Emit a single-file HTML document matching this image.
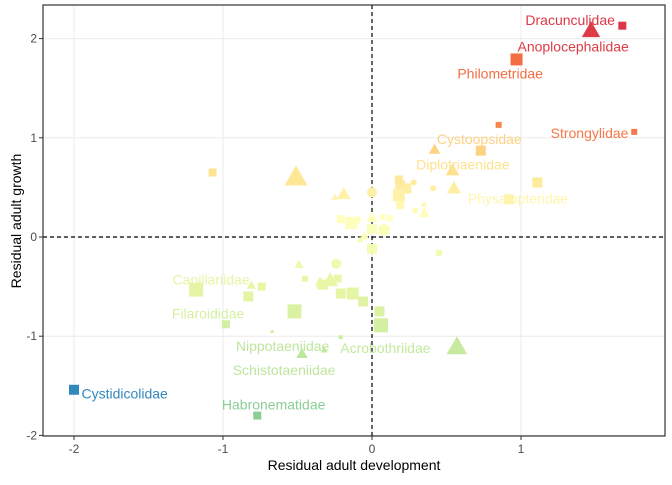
<!DOCTYPE html>
<html><head><meta charset="utf-8">
<style>
body{margin:0;background:#fff;}
svg text{font-family:"Liberation Sans",sans-serif;}
</style></head>
<body>
<svg id="chart" width="672" height="480" viewBox="0 0 672 480" xmlns="http://www.w3.org/2000/svg"></svg>
<script>
const xs=[-1.07,-0.51,-0.25,-0.19,0.0,0.19,0.23,0.18,0.28,0.41,0.55,0.18,0.19,0.35,0.35,-0.21,-0.14,0.0,0.07,0.12,0.0,0.08,-0.05,-0.08,0.0,-0.1,0.29,0.45,
 -0.49,-0.45,-0.24,-0.34,-0.28,-0.35,-0.33,-0.23,-0.21,-0.13,-0.06,0.05,0.06,-0.52,-0.83,-0.74,-0.81,-1.18,-0.98,-0.67,-0.21,-0.47,-0.32,0.57,-0.77,-2.0,
 0.85,1.76,0.42,0.73,0.54,1.11,0.92,1.68,1.47,0.97,0.55];
const ys=[0.65,0.60,0.40,0.43,0.45,0.52,0.49,0.58,0.55,0.49,0.49,0.42,0.32,0.24,0.33,0.18,0.14,0.19,0.20,0.19,0.08,0.07,0.01,-0.03,-0.12,0.17,0.27,-0.16,
 -0.28,-0.42,-0.27,-0.47,-0.44,-0.45,-0.48,-0.42,-0.57,-0.57,-0.65,-0.75,-0.89,-0.75,-0.60,-0.5,-0.49,-0.53,-0.88,-0.95,-1.01,-1.18,-1.14,-1.11,-1.80,-1.54,
 1.13,1.06,0.88,0.87,0.67,0.55,0.38,2.13,2.08,1.79,0.49];
const shapes=["s","t","t","t","c","s","s","s","c","c","t","s","s","t","t","s","s","t","s","s","s","c","t","t","s","c","c","s",
 "t","s","c","t","t","t","s","s","s","s","s","s","s","s","s","s","t","s","s","t","s","t","t","t","s","s",
 "s","s","t","s","t","s","s","s","t","s","t"];
const sizes=[4,10,3,6,5,5,5,4,3,3,6,6,4,5,3,4,6,5,3,3,5,6,4,3,5,4,3,3,
 4,3,5,5,7,4,5,4,5,6,5,5,7,7,5,4,4,7,4,2,2,5,3,9,4,5,
 3,3,5,5,6,5,5,4,8,6,6];
const labels=["Dracunculidae","Anoplocephalidae","Philometridae","Strongylidae","Cystoopsidae","Diplotriaenidae","Physalopteridae","Capillariidae","Filaroididae","Nippotaeniidae","Acrobothriidae","Schistotaeniidae","Habronematidae","Cystidicolidae"];
const labX=[1.33,1.35,0.86,1.46,0.72,0.61,0.98,-1.08,-1.10,-0.60,0.09,-0.59,-0.66,-1.66];
const labY=[2.19,1.92,1.65,1.05,0.99,0.73,0.39,-0.43,-0.77,-1.10,-1.12,-1.34,-1.69,-1.58];
const xTicks=[-2,-1,0,1];
const yTicks=[-2,-1,0,1,2];
const L=43,T=5,R=665,B=436;
const X=v=>372+149*v, Y=v=>237-99.2*v;
const svg=document.getElementById('chart');
const NS="http://www.w3.org/2000/svg";
function mk(t,a){const e=document.createElementNS(NS,t);for(const k in a)e.setAttribute(k,a[k]);svg.appendChild(e);return e;}
const stops=[[-1.9,[140,205,150]],[-1.6,[140,205,150]],[-1.1,[200,235,160]],[-0.5,[232,246,165]],[0.2,[255,255,191]],[0.6,[254,232,150]],[1.0,[253,200,120]],[1.4,[250,140,80]],[1.8,[244,109,67]],[2.1,[220,55,70]]];
function col(v){if(v<=stops[0][0])return 'rgb('+stops[0][1]+')';for(let i=1;i<stops.length;i++){if(v<=stops[i][0]){const a=stops[i-1],b=stops[i],t=(v-a[0])/(b[0]-a[0]);return 'rgb('+a[1].map((c,j)=>Math.round(c+(b[1][j]-c)*t)).join(',')+')';}}return 'rgb('+stops[stops.length-1][1]+')';}
function colAt(x,y){if(x<-1.6)return 'rgb(50,136,189)';if(x>1.4&&y<1.5)return col(y+0.6);if(x>0.8&&y>1.0&&y<1.5)return col(y+0.35);return col(y);}
for(const t of xTicks){const g=mk('line',{x1:X(t),x2:X(t),y1:T,y2:B,stroke:'#ebebeb','stroke-width':1});
}
for(const t of yTicks){const g=mk('line',{x1:L,x2:R,y1:Y(t),y2:Y(t),stroke:'#ebebeb','stroke-width':1});
}
let h=mk('line',{x1:L,x2:R,y1:Y(0),y2:Y(0),stroke:'#000','stroke-dasharray':'4,3','stroke-width':1.2});

let vl=mk('line',{x1:X(0),x2:X(0),y1:T,y2:B,stroke:'#000','stroke-dasharray':'4,3','stroke-width':1.2});

for(let i=0;i<xs.length;i++){const cx=X(xs[i]),cy=Y(ys[i]),s=sizes[i],c=colAt(xs[i],ys[i]);let e;
 if(shapes[i]=='s')e=mk('rect',{x:cx-s,y:cy-s,width:2*s,height:2*s,fill:c});
 else if(shapes[i]=='c')e=mk('circle',{cx:cx,cy:cy,r:s,fill:c});
 else e=mk('polygon',{points:`${cx},${cy-s*1.2} ${cx-s*1.15},${cy+s*0.8} ${cx+s*1.15},${cy+s*0.8}`,fill:c});
 
 }
const labColX=[1.68,1.47,0.97,1.76,0.42,0.54,0.92,-1.18,-0.98,-0.47,-0.32,-0.47,-0.77,-2.0];
const labColY=[2.13,2.08,1.79,1.06,0.88,0.67,0.38,-0.53,-0.88,-1.18,-1.14,-1.18,-1.80,-1.54];
for(let i=0;i<labels.length;i++){const e=mk('text',{x:X(labX[i]),y:Y(labY[i])+5,'text-anchor':'middle','font-size':14,fill:colAt(labColX[i],labColY[i])});e.textContent=labels[i];
 
 }
let bd=mk('rect',{x:L,y:T,width:R-L,height:B-T,fill:'none',stroke:'#333','stroke-width':1.2});

for(const t of xTicks){let k=mk('line',{x1:X(t),x2:X(t),y1:B,y2:B+4,stroke:'#333'});
 const e=mk('text',{x:X(t),y:B+17,'text-anchor':'middle','font-size':12,fill:'#4d4d4d'});e.textContent=t;
 }
for(const t of yTicks){let k=mk('line',{x1:L-4,x2:L,y1:Y(t),y2:Y(t),stroke:'#333'});
 const e=mk('text',{x:L-6,y:Y(t)+4,'text-anchor':'end','font-size':12,fill:'#4d4d4d'});e.textContent=t;
 }
let xt=mk('text',{x:354,y:470,'text-anchor':'middle','font-size':14,fill:'#000'});xt.textContent='Residual adult development';

let yt=mk('text',{x:0,y:0,'text-anchor':'middle','font-size':14,fill:'#000',transform:'translate(21,221) rotate(-90)'});yt.textContent='Residual adult growth';

</script>
</body></html>
